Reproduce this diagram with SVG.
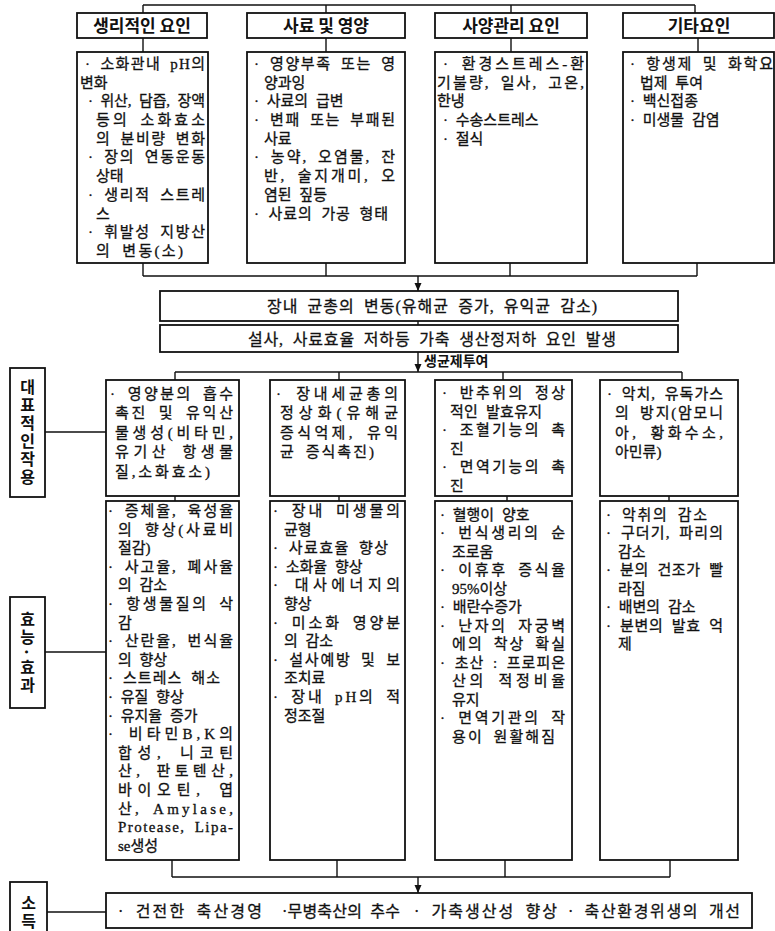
<svg xmlns="http://www.w3.org/2000/svg" width="775" height="931" viewBox="0 0 775 931">
<style>
.bx{fill:#fff;stroke:#111;stroke-width:1.8}
.cn{fill:none;stroke:#111;stroke-width:1.4}
.t{font-family:"Liberation Serif","Noto Sans CJK KR",serif;font-size:15px;fill:#111;stroke:#111;stroke-width:0.3;word-spacing:4px}
.h{font-family:"Noto Sans CJK KR",sans-serif;font-weight:bold;font-size:17px;fill:#111;text-anchor:middle}
.m{font-family:"Liberation Serif","Noto Sans CJK KR",serif;font-size:16px;fill:#111;stroke:#111;stroke-width:0.3;word-spacing:4px}
.lb{font-family:"Noto Sans CJK KR",sans-serif;font-weight:bold;font-size:16px;fill:#111;text-anchor:middle;writing-mode:vertical-rl;letter-spacing:2px}
</style>
<defs>
<marker id="ar" viewBox="0 -4 8 8" refX="8" refY="0" markerWidth="8" markerHeight="8" markerUnits="userSpaceOnUse" orient="auto">
<path d="M0,-3.5 L8,0 L0,3.5 z" fill="#111"/>
</marker>
</defs>
<rect width="775" height="931" fill="#fff"/>

<g id="connectors">
<path class="cn" d="M143,5 H695 M143,5 V13 M326,5 V13 M511,5 V13 M695,5 V13"/>
<path class="cn" d="M143,38 V52 M326,38 V52 M511,38 V52 M698,38 V52"/>
<path class="cn" d="M143,263 V276 M326,263 V276 M510,263 V276 M697,263 V276 M143,276 H697"/>
<path class="cn" d="M418,276 V291" marker-end="url(#ar)"/>
<path class="cn" d="M418,321 V325"/>
<path class="cn" d="M418,352 V372" marker-end="url(#ar)"/>
<path class="cn" d="M175,372 H682 M175,372 V380 M339,372 V380 M503,372 V380 M682,372 V380"/>
<path class="cn" d="M175,496 V501 M339,496 V501 M507,496 V501 M669,496 V501"/>
<path class="cn" d="M172,860 V877 M337,860 V877 M505,860 V877 M670,860 V877 M172,877 H670"/>
<path class="cn" d="M418,877 V893" marker-end="url(#ar)"/>
<path class="cn" d="M45,432 H106 M45,652 H106 M47,912 H106"/>
</g>

<g id="hdr1"><rect class="bx" x="77" y="13" width="130" height="25"/><text class="h" x="142" y="31.5">생리적인 요인</text></g>
<g id="hdr2"><rect class="bx" x="247" y="13" width="158" height="25"/><text class="h" x="326" y="31.5">사료 및 영양</text></g>
<g id="hdr3"><rect class="bx" x="435" y="13" width="152" height="25"/><text class="h" x="511" y="31.5">사양관리 요인</text></g>
<g id="hdr4"><rect class="bx" x="623" y="13" width="151" height="25"/><text class="h" x="699" y="31.5">기타요인</text></g>

<g id="box1"><rect class="bx" x="77" y="52" width="131" height="211"/>
<text class="t" x="85" y="69" textLength="120" lengthAdjust="spacing">· 소화관내 pH의</text>
<text class="t" x="80" y="88">변화</text>
<text class="t" x="88" y="106" textLength="117" lengthAdjust="spacing">· 위산, 담즙, 장액</text>
<text class="t" x="96" y="125" textLength="109" lengthAdjust="spacing">등의 소화효소</text>
<text class="t" x="96" y="144" textLength="109" lengthAdjust="spacing">의 분비량 변화</text>
<text class="t" x="88" y="162" textLength="117" lengthAdjust="spacing">· 장의 연동운동</text>
<text class="t" x="96" y="181">상태</text>
<text class="t" x="88" y="200" textLength="117" lengthAdjust="spacing">· 생리적 스트레</text>
<text class="t" x="96" y="219">스</text>
<text class="t" x="88" y="237" textLength="117" lengthAdjust="spacing">· 휘발성 지방산</text>
<text class="t" x="96" y="256" textLength="87" lengthAdjust="spacing">의 변동(소)</text>
</g>

<g id="box2"><rect class="bx" x="247" y="52" width="158" height="211"/>
<text class="t" x="254" y="69" textLength="141" lengthAdjust="spacing">· 영양부족 또는 영</text>
<text class="t" x="264" y="88">양과잉</text>
<text class="t" x="254" y="106">· 사료의 급변</text>
<text class="t" x="254" y="125" textLength="141" lengthAdjust="spacing">· 변패 또는 부패된</text>
<text class="t" x="264" y="144">사료</text>
<text class="t" x="254" y="162" textLength="141" lengthAdjust="spacing">· 농약, 오염물, 잔</text>
<text class="t" x="264" y="181" textLength="131" lengthAdjust="spacing">반, 술지개미, 오</text>
<text class="t" x="264" y="200">염된 짚등</text>
<text class="t" x="254" y="219" textLength="134" lengthAdjust="spacing">· 사료의 가공 형태</text>
</g>

<g id="box3"><rect class="bx" x="435" y="52" width="152" height="211"/>
<text class="t" x="443" y="69" textLength="141" lengthAdjust="spacing">· 환경스트레스-환</text>
<text class="t" x="437" y="88" textLength="147" lengthAdjust="spacing">기불량, 일사, 고온,</text>
<text class="t" x="437" y="106">한냉</text>
<text class="t" x="443" y="125">· 수송스트레스</text>
<text class="t" x="443" y="144">· 절식</text>
</g>

<g id="box4"><rect class="bx" x="623" y="52" width="151" height="211"/>
<text class="t" x="630" y="69" textLength="143" lengthAdjust="spacing">· 항생제 및 화학요</text>
<text class="t" x="640" y="88">법제 투여</text>
<text class="t" x="630" y="106">· 백신접종</text>
<text class="t" x="630" y="125">· 미생물 감염</text>
</g>

<g id="bar1"><rect class="bx" x="160" y="291" width="518" height="30"/>
<text class="m" x="267" y="312" textLength="330" lengthAdjust="spacing">장내 균총의 변동(유해균 증가, 유익균 감소)</text></g>
<g id="bar2"><rect class="bx" x="160" y="325" width="518" height="27"/>
<text class="m" x="248" y="345" textLength="368" lengthAdjust="spacing">설사, 사료효율 저하등 가축 생산정저하 요인 발생</text></g>
<g id="dose"><text x="424" y="366" style="font-family:'Noto Sans CJK KR',sans-serif;font-weight:bold;font-size:14px;fill:#111">생균제투여</text></g>

<g id="lbl1"><rect class="bx" x="10" y="368" width="35" height="129"/>
<text class="lb" x="27.5" y="433">대표적인작용</text></g>

<g id="act1"><rect class="bx" x="106" y="380" width="133" height="116"/>
<text class="t" x="110" y="399" textLength="123" lengthAdjust="spacing">· 영양분의 흡수</text>
<text class="t" x="115" y="418" textLength="118" lengthAdjust="spacing">촉진 및 유익산</text>
<text class="t" x="115" y="438" textLength="118" lengthAdjust="spacing">물생성(비타민,</text>
<text class="t" x="115" y="457" textLength="118" lengthAdjust="spacing">유기산 항생물</text>
<text class="t" x="115" y="477" textLength="95" lengthAdjust="spacing">질,소화효소)</text>
</g>
<g id="act2"><rect class="bx" x="270" y="380" width="135" height="116"/>
<text class="t" x="276" y="399" textLength="122" lengthAdjust="spacing">· 장내세균총의</text>
<text class="t" x="280" y="418" textLength="118" lengthAdjust="spacing">정상화(유해균</text>
<text class="t" x="280" y="438" textLength="118" lengthAdjust="spacing">증식억제, 유익</text>
<text class="t" x="280" y="457" textLength="94" lengthAdjust="spacing">균 증식촉진)</text>
</g>
<g id="act3"><rect class="bx" x="435" y="380" width="137" height="116"/>
<text class="t" x="442" y="398" textLength="123" lengthAdjust="spacing">· 반추위의 정상</text>
<text class="t" x="450" y="416.5" textLength="92" lengthAdjust="spacing">적인 발효유지</text>
<text class="t" x="442" y="435" textLength="123" lengthAdjust="spacing">· 조혈기능의 촉</text>
<text class="t" x="450" y="453.5">진</text>
<text class="t" x="442" y="472" textLength="123" lengthAdjust="spacing">· 면역기능의 촉</text>
<text class="t" x="450" y="490.5">진</text>
</g>
<g id="act4"><rect class="bx" x="600" y="380" width="138" height="116"/>
<text class="t" x="607" y="399" textLength="116" lengthAdjust="spacing">· 악치, 유독가스</text>
<text class="t" x="615" y="418" textLength="108" lengthAdjust="spacing">의 방지(암모니</text>
<text class="t" x="615" y="438" textLength="108" lengthAdjust="spacing">아, 황화수소,</text>
<text class="t" x="615" y="457">아민류)</text>
</g>

<g id="lbl2"><rect class="bx" x="10" y="597" width="35" height="111"/>
<text class="lb" x="27.5" y="653">효능·효과</text></g>

<g id="eff1"><rect class="bx" x="106" y="501" width="133" height="359"/>
<text class="t" x="108" y="516" textLength="125" lengthAdjust="spacing">· 증체율, 육성율</text>
<text class="t" x="118" y="534.6" textLength="115" lengthAdjust="spacing">의 향상(사료비</text>
<text class="t" x="118" y="553.2">절감)</text>
<text class="t" x="108" y="571.8" textLength="125" lengthAdjust="spacing">· 사고율, 폐사율</text>
<text class="t" x="118" y="590.4">의 감소</text>
<text class="t" x="108" y="609" textLength="125" lengthAdjust="spacing">· 항생물질의 삭</text>
<text class="t" x="118" y="627.6">감</text>
<text class="t" x="108" y="646.2" textLength="125" lengthAdjust="spacing">· 산란율, 번식율</text>
<text class="t" x="118" y="664.8">의 향상</text>
<text class="t" x="108" y="683.4" textLength="112" lengthAdjust="spacing">· 스트레스 해소</text>
<text class="t" x="108" y="702">· 유질 향상</text>
<text class="t" x="108" y="720.6">· 유지율 증가</text>
<text class="t" x="108" y="739.2" textLength="125" lengthAdjust="spacing">· 비타민B,K의</text>
<text class="t" x="118" y="757.8" textLength="115" lengthAdjust="spacing">합성, 니코틴</text>
<text class="t" x="118" y="776.4" textLength="115" lengthAdjust="spacing">산, 판토텐산,</text>
<text class="t" x="118" y="795" textLength="115" lengthAdjust="spacing">바이오틴, 엽</text>
<text class="t" x="118" y="813.6" textLength="115" lengthAdjust="spacing">산, Amylase,</text>
<text class="t" x="118" y="832.2" textLength="115" lengthAdjust="spacing">Protease, Lipa-</text>
<text class="t" x="118" y="850.8">se생성</text>
</g>
<g id="eff2"><rect class="bx" x="270" y="501" width="135" height="359"/>
<text class="t" x="273" y="516" textLength="127" lengthAdjust="spacing">· 장내 미생물의</text>
<text class="t" x="284" y="534.6">균형</text>
<text class="t" x="273" y="553.2" textLength="115" lengthAdjust="spacing">· 사료효율 향상</text>
<text class="t" x="273" y="571.8">· 소화율 향상</text>
<text class="t" x="273" y="590.4" textLength="127" lengthAdjust="spacing">· 대사에너지의</text>
<text class="t" x="284" y="609">향상</text>
<text class="t" x="273" y="627.6" textLength="127" lengthAdjust="spacing">· 미소화 영양분</text>
<text class="t" x="284" y="646.2">의 감소</text>
<text class="t" x="273" y="664.8" textLength="127" lengthAdjust="spacing">· 설사예방 및 보</text>
<text class="t" x="284" y="683.4">조치료</text>
<text class="t" x="273" y="702" textLength="127" lengthAdjust="spacing">· 장내 pH의 적</text>
<text class="t" x="284" y="720.6">정조절</text>
</g>
<g id="eff3"><rect class="bx" x="435" y="501" width="137" height="359"/>
<text class="t" x="440" y="519.5">· 혈행이 양호</text>
<text class="t" x="440" y="538" textLength="125" lengthAdjust="spacing">· 번식생리의 순</text>
<text class="t" x="452" y="556.5">조로움</text>
<text class="t" x="440" y="575" textLength="125" lengthAdjust="spacing">· 이휴후 증식율</text>
<text class="t" x="452" y="593.5">95%이상</text>
<text class="t" x="440" y="612">· 배란수증가</text>
<text class="t" x="440" y="630.5" textLength="125" lengthAdjust="spacing">· 난자의 자궁벽</text>
<text class="t" x="452" y="649" textLength="113" lengthAdjust="spacing">에의 착상 확실</text>
<text class="t" x="440" y="667.5" textLength="125" lengthAdjust="spacing">· 초산 : 프로피온</text>
<text class="t" x="452" y="686" textLength="113" lengthAdjust="spacing">산의 적정비율</text>
<text class="t" x="452" y="704.5">유지</text>
<text class="t" x="440" y="723" textLength="125" lengthAdjust="spacing">· 면역기관의 작</text>
<text class="t" x="452" y="741.5" textLength="103" lengthAdjust="spacing">용이 원활해짐</text>
</g>
<g id="eff4"><rect class="bx" x="600" y="501" width="138" height="359"/>
<text class="t" x="606" y="519.5" textLength="101" lengthAdjust="spacing">· 악취의 감소</text>
<text class="t" x="606" y="538" textLength="117" lengthAdjust="spacing">· 구더기, 파리의</text>
<text class="t" x="618" y="556.5">감소</text>
<text class="t" x="606" y="575" textLength="117" lengthAdjust="spacing">· 분의 건조가 빨</text>
<text class="t" x="618" y="593.5">라짐</text>
<text class="t" x="606" y="612">· 배변의 감소</text>
<text class="t" x="606" y="630.5" textLength="117" lengthAdjust="spacing">· 분변의 발효 억</text>
<text class="t" x="618" y="649">제</text>
</g>

<g id="lbl3"><rect class="bx" x="10" y="882" width="37" height="60"/>
<text class="lb" x="28.5" y="913">소득</text></g>

<g id="result"><rect class="bx" x="106" y="893" width="646" height="35"/>
<text class="m" x="118" y="917" textLength="144" lengthAdjust="spacing">· 건전한 축산경영</text>
<text class="m" x="282" y="917" textLength="118" lengthAdjust="spacing">·무병축산의 추수</text>
<text class="m" x="414" y="917" textLength="143" lengthAdjust="spacing">· 가축생산성 향상</text>
<text class="m" x="568" y="917" textLength="172" lengthAdjust="spacing">· 축산환경위생의 개선</text>
</g>
</svg>
